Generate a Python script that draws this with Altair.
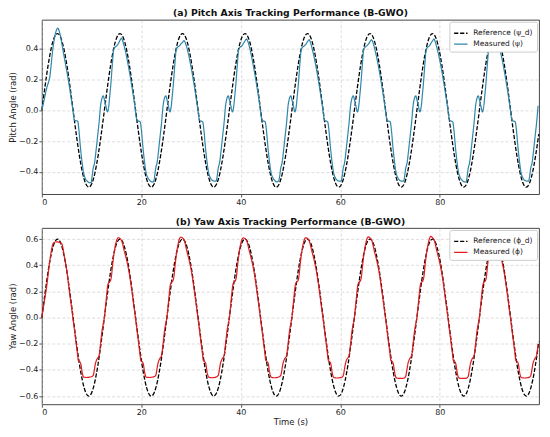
import altair as alt
import pandas as pd

# ---------------- data ----------------
ref_step = 0.6283  # seconds between reference samples

pitch_reference = [
    0.0, 0.155, 0.294, 0.405, 0.476, 0.5, 0.476, 0.405, 0.294, 0.155, 0.0, -0.155, -0.294, -0.405, -0.476, -0.5, -0.476, -0.405, -0.294, -0.155,
    0.0, 0.155, 0.294, 0.405, 0.476, 0.5, 0.476, 0.405, 0.294, 0.155, 0.0, -0.155, -0.294, -0.405, -0.476, -0.5, -0.476, -0.405, -0.294, -0.155,
    0.0, 0.155, 0.294, 0.405, 0.476, 0.5, 0.476, 0.405, 0.294, 0.155, 0.0, -0.155, -0.294, -0.405, -0.476, -0.5, -0.476, -0.405, -0.294, -0.155,
    0.0, 0.155, 0.294, 0.405, 0.476, 0.5, 0.476, 0.405, 0.294, 0.155, 0.0, -0.155, -0.294, -0.405, -0.476, -0.5, -0.476, -0.405, -0.294, -0.155,
    0.0, 0.155, 0.294, 0.405, 0.476, 0.5, 0.476, 0.405, 0.294, 0.155, 0.0, -0.155, -0.294, -0.405, -0.476, -0.5, -0.476, -0.405, -0.294, -0.155,
    0.0, 0.155, 0.294, 0.405, 0.476, 0.5, 0.476, 0.405, 0.294, 0.155, 0.0, -0.155, -0.294, -0.405, -0.476, -0.5, -0.476, -0.405, -0.294, -0.155,
    0.0, 0.155, 0.294, 0.405, 0.476, 0.5, 0.476, 0.405, 0.294, 0.155, 0.0, -0.155, -0.294, -0.405, -0.476, -0.5, -0.476, -0.405, -0.294, -0.155,
    0.0, 0.155, 0.294, 0.405, 0.476, 0.5, 0.476, 0.405, 0.294, 0.155, 0.0, -0.155, -0.294, -0.405, -0.476, -0.5, -0.476, -0.405, -0.294, -0.155,
]

yaw_reference = [
    0.0, 0.185, 0.353, 0.485, 0.571, 0.6, 0.571, 0.485, 0.353, 0.185, 0.0, -0.185, -0.353, -0.485, -0.571, -0.6, -0.571, -0.485, -0.353, -0.185,
    0.0, 0.185, 0.353, 0.485, 0.571, 0.6, 0.571, 0.485, 0.353, 0.185, 0.0, -0.185, -0.353, -0.485, -0.571, -0.6, -0.571, -0.485, -0.353, -0.185,
    0.0, 0.185, 0.353, 0.485, 0.571, 0.6, 0.571, 0.485, 0.353, 0.185, 0.0, -0.185, -0.353, -0.485, -0.571, -0.6, -0.571, -0.485, -0.353, -0.185,
    0.0, 0.185, 0.353, 0.485, 0.571, 0.6, 0.571, 0.485, 0.353, 0.185, 0.0, -0.185, -0.353, -0.485, -0.571, -0.6, -0.571, -0.485, -0.353, -0.185,
    0.0, 0.185, 0.353, 0.485, 0.571, 0.6, 0.571, 0.485, 0.353, 0.185, 0.0, -0.185, -0.353, -0.485, -0.571, -0.6, -0.571, -0.485, -0.353, -0.185,
    0.0, 0.185, 0.353, 0.485, 0.571, 0.6, 0.571, 0.485, 0.353, 0.185, 0.0, -0.185, -0.353, -0.485, -0.571, -0.6, -0.571, -0.485, -0.353, -0.185,
    0.0, 0.185, 0.353, 0.485, 0.571, 0.6, 0.571, 0.485, 0.353, 0.185, 0.0, -0.185, -0.353, -0.485, -0.571, -0.6, -0.571, -0.485, -0.353, -0.185,
    0.0, 0.185, 0.353, 0.485, 0.571, 0.6, 0.571, 0.485, 0.353, 0.185, 0.0, -0.185, -0.353, -0.485, -0.571, -0.6, -0.571, -0.485, -0.353, -0.185,
]

# start time (s) of each tracking cycle
cycle_start = [0.0, 12.566, 25.133, 37.699, 50.265, 62.832, 75.398, 87.965]

# measured pitch: time within cycle and values per cycle
pitch_phase = [0.0, 0.3, 0.6, 0.85, 1.1, 1.35, 1.6, 1.85, 2.1, 2.5, 2.9, 3.2, 3.45, 3.7, 4.2, 4.7, 5.2, 5.7, 6.2, 6.45,
               6.6, 7.2, 7.45, 7.75, 8.05, 8.35, 8.75, 9.1, 9.5, 9.9, 10.1, 10.3, 10.6, 10.9, 11.2, 11.5, 11.8, 12.05, 12.35]
pitch_measured = [
    [0.0, 0.045, 0.09, 0.13, 0.16, 0.185, 0.22, 0.29, 0.37, 0.465, 0.52, 0.535, 0.52, 0.49, 0.40, 0.31, 0.22, 0.12, 0.01, -0.05,
     -0.065, -0.07, -0.13, -0.24, -0.33, -0.40, -0.445, -0.46, -0.47, -0.47, -0.43, -0.38, -0.34, -0.26, -0.17, -0.08, 0.03, 0.075, 0.095],
    [0.07, 0.03, -0.01, 0.02, 0.10, 0.19, 0.30, 0.39, 0.41, 0.42, 0.44, 0.46, 0.47, 0.45, 0.39, 0.31, 0.22, 0.12, 0.01, -0.05,
     -0.065, -0.075, -0.13, -0.24, -0.33, -0.40, -0.44, -0.455, -0.465, -0.465, -0.43, -0.38, -0.34, -0.26, -0.17, -0.08, 0.03, 0.075, 0.095],
    [0.07, 0.03, -0.01, 0.02, 0.10, 0.19, 0.30, 0.39, 0.41, 0.42, 0.435, 0.445, 0.455, 0.44, 0.385, 0.31, 0.22, 0.12, 0.01, -0.05,
     -0.065, -0.075, -0.13, -0.24, -0.33, -0.40, -0.44, -0.455, -0.46, -0.46, -0.43, -0.38, -0.34, -0.26, -0.17, -0.08, 0.03, 0.075, 0.095],
    [0.07, 0.03, -0.01, 0.02, 0.10, 0.19, 0.30, 0.39, 0.41, 0.42, 0.44, 0.455, 0.465, 0.45, 0.39, 0.31, 0.22, 0.12, 0.01, -0.05,
     -0.065, -0.075, -0.13, -0.24, -0.33, -0.40, -0.44, -0.455, -0.465, -0.46, -0.43, -0.38, -0.34, -0.26, -0.17, -0.08, 0.03, 0.075, 0.095],
    [0.07, 0.03, -0.01, 0.02, 0.10, 0.19, 0.30, 0.39, 0.41, 0.42, 0.435, 0.45, 0.46, 0.445, 0.385, 0.31, 0.22, 0.12, 0.01, -0.05,
     -0.065, -0.075, -0.13, -0.24, -0.33, -0.40, -0.44, -0.455, -0.46, -0.46, -0.43, -0.38, -0.34, -0.26, -0.17, -0.08, 0.03, 0.075, 0.095],
    [0.07, 0.03, -0.01, 0.02, 0.10, 0.19, 0.30, 0.39, 0.41, 0.42, 0.435, 0.45, 0.46, 0.445, 0.385, 0.31, 0.22, 0.12, 0.01, -0.05,
     -0.065, -0.075, -0.13, -0.24, -0.33, -0.40, -0.44, -0.455, -0.46, -0.46, -0.43, -0.38, -0.34, -0.26, -0.17, -0.08, 0.03, 0.075, 0.095],
    [0.07, 0.03, -0.01, 0.02, 0.10, 0.19, 0.30, 0.39, 0.41, 0.42, 0.44, 0.455, 0.465, 0.445, 0.385, 0.31, 0.22, 0.12, 0.01, -0.05,
     -0.065, -0.075, -0.13, -0.24, -0.33, -0.40, -0.44, -0.455, -0.465, -0.465, -0.43, -0.38, -0.34, -0.26, -0.17, -0.08, 0.03, 0.075, 0.095],
    [0.07, 0.03, -0.01, 0.02, 0.10, 0.19, 0.30, 0.39, 0.41, 0.42, 0.435, 0.445, 0.45, 0.44, 0.385, 0.31, 0.22, 0.12, 0.01, -0.05,
     -0.065, -0.075, -0.13, -0.24, -0.33, -0.40, -0.44, -0.455, -0.46, -0.46, -0.43, -0.38, -0.34, -0.26, -0.17, -0.08, 0.03, 0.075, 0.095],
]

# measured yaw: time within cycle and values per cycle
yaw_phase = [0.0, 0.35, 0.7, 0.9, 1.2, 1.4, 1.65, 1.9, 2.2, 2.5, 2.8, 3.1, 3.5, 4.0, 4.5, 5.0, 5.5, 5.85, 6.3, 6.7,
             7.1, 7.35, 7.55, 7.8, 8.1, 8.4, 9.0, 9.6, 10.1, 10.35, 10.55, 10.75, 11.05, 11.5, 11.8, 12.1, 12.38]
yaw_measured = [
    [0.0, 0.09, 0.17, 0.22, 0.31, 0.38, 0.45, 0.51, 0.56, 0.575, 0.578, 0.578, 0.575, 0.565, 0.47, 0.36, 0.21, 0.11, -0.02, -0.14,
     -0.26, -0.33, -0.335, -0.35, -0.42, -0.455, -0.458, -0.455, -0.45, -0.44, -0.40, -0.355, -0.32, -0.29, -0.20, -0.10, -0.04],
    [0.0, 0.13, 0.25, 0.27, 0.28, 0.31, 0.40, 0.48, 0.55, 0.595, 0.61, 0.605, 0.585, 0.51, 0.435, 0.34, 0.21, 0.11, -0.02, -0.14,
     -0.26, -0.33, -0.335, -0.35, -0.42, -0.455, -0.458, -0.455, -0.45, -0.44, -0.40, -0.355, -0.32, -0.29, -0.20, -0.10, -0.04],
    [0.0, 0.13, 0.25, 0.27, 0.28, 0.31, 0.40, 0.48, 0.55, 0.60, 0.615, 0.61, 0.59, 0.51, 0.435, 0.34, 0.21, 0.11, -0.02, -0.14,
     -0.26, -0.33, -0.335, -0.35, -0.42, -0.455, -0.46, -0.458, -0.45, -0.44, -0.40, -0.355, -0.32, -0.29, -0.20, -0.10, -0.04],
    [0.0, 0.13, 0.25, 0.27, 0.28, 0.31, 0.40, 0.48, 0.55, 0.595, 0.61, 0.605, 0.585, 0.51, 0.435, 0.34, 0.21, 0.11, -0.02, -0.14,
     -0.26, -0.33, -0.335, -0.35, -0.42, -0.455, -0.46, -0.458, -0.45, -0.44, -0.40, -0.355, -0.32, -0.29, -0.20, -0.10, -0.04],
    [0.0, 0.13, 0.25, 0.27, 0.28, 0.31, 0.40, 0.48, 0.55, 0.595, 0.61, 0.605, 0.585, 0.51, 0.435, 0.34, 0.21, 0.11, -0.02, -0.14,
     -0.26, -0.33, -0.335, -0.35, -0.42, -0.458, -0.462, -0.46, -0.455, -0.44, -0.40, -0.355, -0.32, -0.29, -0.20, -0.10, -0.04],
    [0.0, 0.13, 0.25, 0.27, 0.28, 0.31, 0.40, 0.48, 0.55, 0.60, 0.617, 0.61, 0.59, 0.51, 0.435, 0.34, 0.21, 0.11, -0.02, -0.14,
     -0.26, -0.33, -0.335, -0.35, -0.42, -0.46, -0.465, -0.465, -0.46, -0.445, -0.40, -0.355, -0.32, -0.29, -0.20, -0.10, -0.04],
    [0.0, 0.13, 0.25, 0.27, 0.28, 0.31, 0.40, 0.48, 0.55, 0.60, 0.62, 0.612, 0.59, 0.51, 0.435, 0.34, 0.21, 0.11, -0.02, -0.14,
     -0.26, -0.33, -0.335, -0.35, -0.42, -0.46, -0.465, -0.465, -0.46, -0.445, -0.40, -0.355, -0.32, -0.29, -0.20, -0.10, -0.04],
    [0.0, 0.13, 0.25, 0.27, 0.28, 0.31, 0.40, 0.48, 0.55, 0.59, 0.60, 0.598, 0.58, 0.51, 0.435, 0.34, 0.21, 0.11, -0.02, -0.14,
     -0.26, -0.33, -0.335, -0.35, -0.42, -0.458, -0.462, -0.46, -0.455, -0.44, -0.40, -0.355, -0.32, -0.29, -0.20, -0.10, -0.04],
]

T_MAX = 99.95
x_ticks = [0, 20, 40, 60, 80]
pitch_ticks = [-0.4, -0.2, 0.0, 0.2, 0.4]
yaw_ticks = [-0.6, -0.4, -0.2, 0.0, 0.2, 0.4, 0.6]
pitch_labels = ["Reference (ψ_d)", "Measured (ψ)"]
yaw_labels = ["Reference (ϕ_d)", "Measured (ϕ)"]
FONT = "DejaVu Sans"


def build_ref(values, label):
    return pd.DataFrame({"t": [i * ref_step for i in range(len(values))], "v": values, "series": label})


def build_meas(phase, cycles, label):
    rows = []
    for start, vals in zip(cycle_start, cycles):
        for ph, v in zip(phase, vals):
            t = start + ph
            if t <= T_MAX:
                rows.append({"t": t, "v": v, "series": label})
    return pd.DataFrame(rows)


def panel(ref_df, meas_df, labels, color, ydomain, yticks, ytitle, title, x_title, h):
    legend = alt.Legend(
        title=None, orient="top-right", offset=2, symbolType="stroke",
        symbolSize=180, symbolStrokeWidth=1.4, labelFont=FONT, labelFontSize=7.5,
        labelColor="#222", fillColor="white", strokeColor="#cccccc", cornerRadius=2,
        padding=4, rowPadding=0, labelOffset=5,
    )
    color_enc = alt.Color("series:N", scale=alt.Scale(domain=labels, range=["#000000", color]),
                          legend=legend, sort=labels)
    dash_enc = alt.StrokeDash("series:N", scale=alt.Scale(domain=labels, range=[[4.2, 1.8], [1, 0]]),
                              legend=legend, sort=labels)
    x_enc = alt.X("t:Q", scale=alt.Scale(domain=[0, T_MAX], nice=False, zero=False),
                  axis=alt.Axis(values=x_ticks, format="d", title=x_title))
    y_enc = alt.Y("v:Q", scale=alt.Scale(domain=ydomain, nice=False, zero=False),
                  axis=alt.Axis(values=yticks, format=".1f", title=ytitle,
                                labelExpr="replace(datum.label, '-', '−')"))
    ref_line = alt.Chart(ref_df).mark_line(interpolate="natural", strokeWidth=1.3).encode(
        x=x_enc, y=y_enc, color=color_enc, strokeDash=dash_enc)
    meas_line = alt.Chart(meas_df).mark_line(interpolate="monotone", strokeWidth=1.2).encode(
        x=x_enc, y=y_enc, color=color_enc, strokeDash=dash_enc)
    return alt.layer(ref_line, meas_line).properties(
        width=499, height=h,
        title=alt.TitleParams(title, font=FONT, fontSize=9.3, fontWeight="bold", color="#111",
                              anchor="middle", offset=1),
    )


top = panel(build_ref(pitch_reference, pitch_labels[0]),
            build_meas(pitch_phase, pitch_measured, pitch_labels[1]),
            pitch_labels, "#2E86AB", [-0.545, 0.59], pitch_ticks, "Pitch Angle (rad)",
            "(a) Pitch Axis Tracking Performance (B-GWO)", None, 175)
bottom = panel(build_ref(yaw_reference, yaw_labels[0]),
               build_meas(yaw_phase, yaw_measured, yaw_labels[1]),
               yaw_labels, "#E31A1C", [-0.663, 0.685], yaw_ticks, "Yaw Angle (rad)",
               "(b) Yaw Axis Tracking Performance (B-GWO)", "Time (s)", 177)

chart = alt.vconcat(top, bottom, spacing=10).properties(
    padding=0
).resolve_scale(
    color="independent", strokeDash="independent"
).resolve_legend(
    color="independent", strokeDash="independent"
).configure_view(
    stroke="#333333", strokeWidth=0.9
).configure_axis(
    grid=True, gridColor="#b8b8b8", gridDash=[3, 2], gridWidth=0.6, gridOpacity=0.8,
    domain=False, ticks=True, tickColor="#333333", tickSize=3, tickWidth=0.8,
    labelFont=FONT, labelFontSize=8, labelColor="#222222", labelPadding=1,
    titleFont=FONT, titleFontSize=8.5, titleFontWeight="normal", titleColor="#222222", titlePadding=1,
)

chart.save("out.html", embed_options={"renderer": "svg", "actions": False})
